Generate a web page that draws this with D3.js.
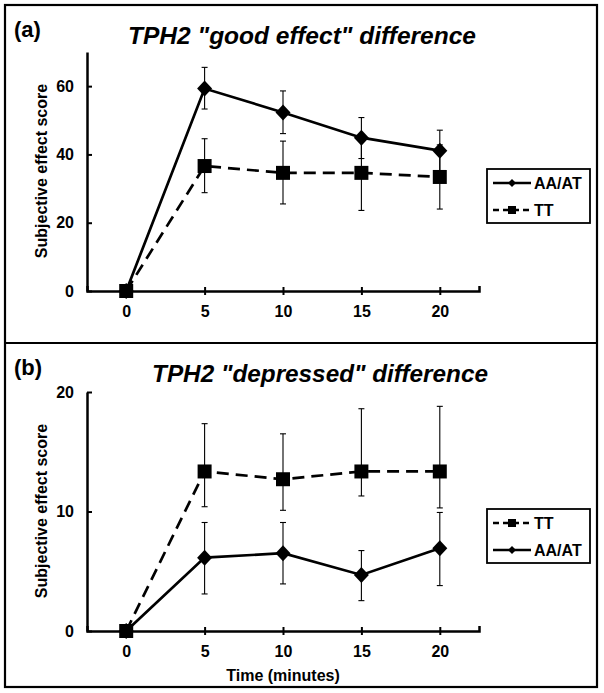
<!DOCTYPE html>
<html>
<head>
<meta charset="utf-8">
<script src="https://cdn.jsdelivr.net/npm/d3@7"></script>
<style>
  html, body { margin: 0; padding: 0; background: #fff; }
  svg { display: block; }
  text { font-family: Arial, "Liberation Sans", sans-serif; fill: #000; }
</style>
</head>
<body>
<script>
// ---------- data ----------
const times = [0, 5, 10, 15, 20];

// Panel (a): "good effect"
const goodAA      = [0, 59.3, 52.3, 44.9, 41.1];
const goodAALow   = [0, 53.3, 46.1, 38.8, 35.1];
const goodAAHigh  = [0, 65.5, 58.6, 50.8, 47.1];
const goodTT      = [0, 36.6, 34.6, 34.6, 33.4];
const goodTTLow   = [0, 28.8, 25.5, 23.6, 24.0];
const goodTTHigh  = [0, 44.6, 43.9, 45.6, 42.8];

// Panel (b): "depressed"
const depTT       = [0, 13.35, 12.7, 13.35, 13.35];
const depTTLow    = [0, 10.4, 10.1, 11.3, 10.3];
const depTTHigh   = [0, 17.35, 16.5, 18.6, 18.8];
const depAA       = [0, 6.14, 6.51, 4.69, 6.93];
const depAALow    = [0, 3.1, 3.94, 2.54, 3.8];
const depAAHigh   = [0, 9.08, 9.08, 6.73, 9.92];

const yTicksA = [0, 20, 40, 60];
const yTicksB = [0, 10, 20];

// ---------- drawing ----------
const W = 604, H = 693;
const svg = d3.select("body").append("svg").attr("width", W).attr("height", H);

// outer frame + divider
svg.append("rect").attr("x", 5).attr("y", 5).attr("width", 592).attr("height", 682)
  .attr("fill", "none").attr("stroke", "#000").attr("stroke-width", 2.2);
svg.append("line").attr("x1", 5).attr("x2", 597).attr("y1", 343).attr("y2", 343)
  .attr("stroke", "#000").attr("stroke-width", 2.2);

function fitText(sel, width) {
  const len = sel.node().getComputedTextLength();
  const fs = parseFloat(sel.attr("font-size"));
  sel.attr("font-size", (fs * width / len).toFixed(2));
}

function panel(cfg) {
  const g = svg.append("g");
  const x = d3.scaleLinear().domain([-2.5, 22.5]).range([87, 479]);
  const y = d3.scaleLinear().domain(cfg.yDomain).range([cfg.y0, cfg.y0 - 239]);

  // panel label
  g.append("text").attr("x", 14).attr("y", cfg.top + 32)
    .attr("font-size", 22).attr("font-weight", "bold").text(cfg.label);
  // title
  const t = g.append("text").attr("x", cfg.titleX).attr("y", cfg.top + 39)
    .attr("text-anchor", "middle").attr("font-size", 23)
    .attr("font-weight", "bold").attr("font-style", "italic").text(cfg.title);
  fitText(t, cfg.titleW);

  // y axis
  const ya = g.append("g").attr("transform", "translate(87,0)")
    .call(d3.axisLeft(y).tickValues(cfg.yTicks).tickSizeInner(-5).tickSizeOuter(0).tickPadding(13));
  ya.select(".domain").attr("stroke-width", 2.5);
  ya.selectAll(".tick line").attr("stroke-width", 2);
  ya.selectAll("text").attr("font-size", 16).attr("font-weight", "bold")
    .attr("font-family", "Arial, 'Liberation Sans', sans-serif");

  // x axis
  const xa = g.append("g").attr("transform", `translate(0,${cfg.y0})`)
    .call(d3.axisBottom(x).tickValues(times).tickSizeInner(4).tickSizeOuter(-5).tickPadding(11));
  xa.select(".domain").attr("stroke-width", 2.5);
  xa.selectAll(".tick line").attr("y1", -4).attr("stroke-width", 2);
  xa.selectAll("text").attr("font-size", 16).attr("font-weight", "bold")
    .attr("font-family", "Arial, 'Liberation Sans', sans-serif");

  // y axis title
  g.append("text")
    .attr("transform", `translate(47,${cfg.y0 - 120}) rotate(-90)`)
    .attr("text-anchor", "middle").attr("font-size", 16).attr("font-weight", "bold")
    .text("Subjective effect score");

  if (cfg.xTitle) {
    g.append("text").attr("x", 283).attr("y", cfg.y0 + 50)
      .attr("text-anchor", "middle").attr("font-size", 16).attr("font-weight", "bold")
      .text(cfg.xTitle);
  }

  // series
  cfg.series.forEach(s => {
    const pts = times.map((t, i) => ({ t, v: s.values[i], lo: s.low[i], hi: s.high[i] }));
    // error bars
    const eb = g.append("g");
    pts.filter(p => p.hi !== p.lo).forEach(p => {
      eb.append("line").attr("x1", x(p.t)).attr("x2", x(p.t)).attr("y1", y(p.lo)).attr("y2", y(p.hi))
        .attr("stroke", "#000").attr("stroke-width", 1.1);
      [p.lo, p.hi].forEach(v => {
        eb.append("line").attr("x1", x(p.t) - 3).attr("x2", x(p.t) + 3).attr("y1", y(v)).attr("y2", y(v))
          .attr("stroke", "#000").attr("stroke-width", 1.1);
      });
    });
    g.append("path").datum(pts)
      .attr("d", d3.line().x(p => x(p.t)).y(p => y(p.v)))
      .attr("fill", "none").attr("stroke", "#000").attr("stroke-width", 2.7)
      .attr("stroke-dasharray", s.dashed ? "12,7" : null);
    g.selectAll(null).data(pts).enter().append("path")
      .attr("transform", p => `translate(${x(p.t)},${y(p.v)})`)
      .attr("d", s.marker === "diamond" ? "M0,-8L7.5,0L0,8L-7.5,0Z" : "M-7,-7H7V7H-7Z")
      .attr("fill", "#000");
  });

  // legend
  const lg = g.append("g");
  lg.append("rect").attr("x", 487).attr("y", cfg.y0 - 122).attr("width", 103).attr("height", 54)
    .attr("fill", "#fff").attr("stroke", "#000").attr("stroke-width", 1.8);
  cfg.legend.forEach((s, i) => {
    const ly = cfg.y0 - 108 + i * 27;
    lg.append("line").attr("x1", 493).attr("x2", 531).attr("y1", ly).attr("y2", ly)
      .attr("stroke", "#000").attr("stroke-width", 2.6)
      .attr("stroke-dasharray", s.dashed ? "6,4" : null);
    lg.append("path").attr("transform", `translate(512,${ly})`)
      .attr("d", s.marker === "diamond" ? "M0,-4L4,0L0,4L-4,0Z" : "M-4,-4H4V4H-4Z")
      .attr("fill", "#000");
    lg.append("text").attr("x", 534).attr("y", ly + 6)
      .attr("font-size", 16).attr("font-weight", "bold").text(s.name);
  });
}

const AA_a = { name: "AA/AT", values: goodAA, low: goodAALow, high: goodAAHigh, marker: "diamond", dashed: false };
const TT_a = { name: "TT", values: goodTT, low: goodTTLow, high: goodTTHigh, marker: "square", dashed: true };
const AA_b = { name: "AA/AT", values: depAA, low: depAALow, high: depAAHigh, marker: "diamond", dashed: false };
const TT_b = { name: "TT", values: depTT, low: depTTLow, high: depTTHigh, marker: "square", dashed: true };

panel({
  top: 5, label: "(a)", title: 'TPH2 "good effect" difference', titleX: 302, titleW: 348,
  y0: 291, yDomain: [0, 70], yTicks: yTicksA,
  series: [AA_a, TT_a], legend: [AA_a, TT_a]
});
panel({
  top: 343, label: "(b)", title: 'TPH2 "depressed" difference', titleX: 320, titleW: 336,
  y0: 631, yDomain: [0, 20], yTicks: yTicksB, xTitle: "Time (minutes)",
  series: [AA_b, TT_b], legend: [TT_b, AA_b]
});
</script>
</body>
</html>
